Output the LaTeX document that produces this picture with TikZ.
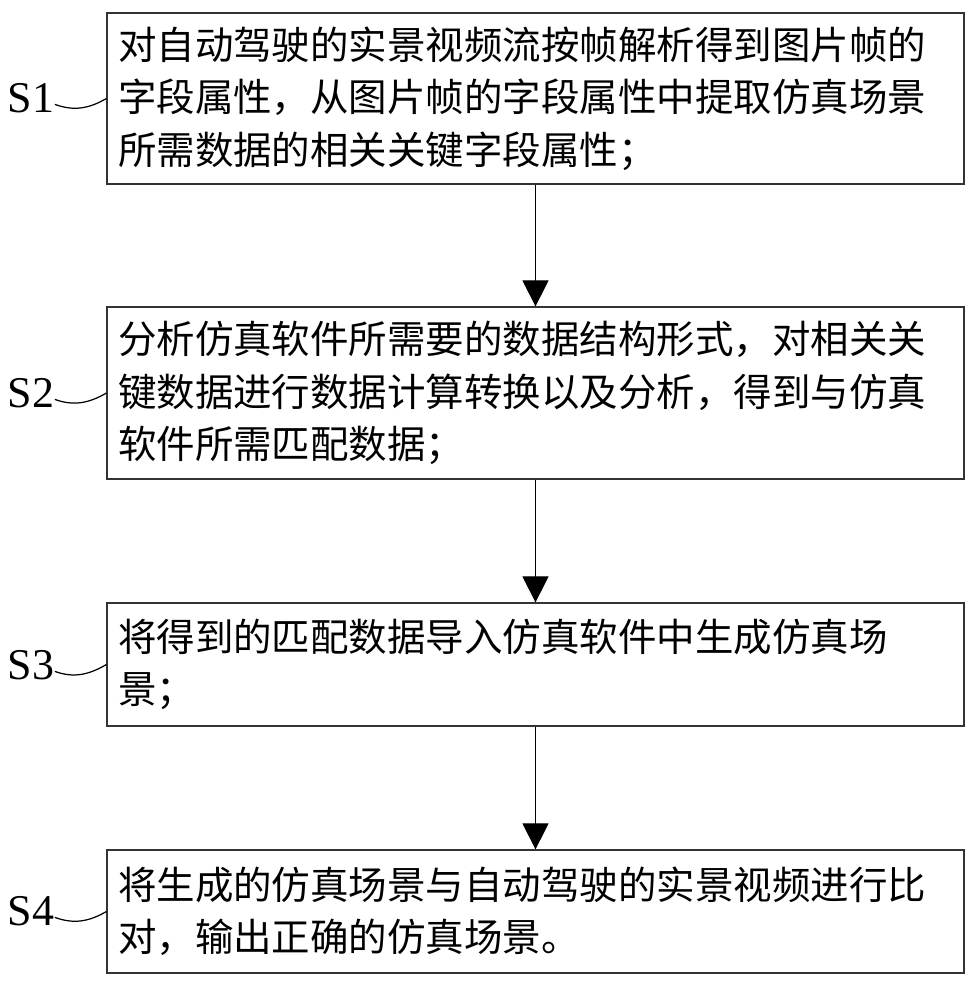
\documentclass[tikz,border=0pt]{standalone}
\usepackage{fontspec}
\setmainfont{Liberation Serif}
\newfontfamily\cjk{Noto Sans CJK SC}
\usetikzlibrary{arrows.meta}

\tikzset{
  stepbox/.style={draw=black!80, minimum width=17.14cm, text width=16.7cm, align=left, inner sep=0pt,
    font=\cjk\fontsize{21.9pt}{29.8pt}\selectfont},
  steplabel/.style={inner sep=0pt, font=\fontsize{25pt}{28pt}\selectfont},
  flow/.style={-{Triangle[length=0.52cm,width=0.52cm]}}
}

\begin{document}
\begin{tikzpicture}[x=0.02cm,y=-0.02cm,line width=0.7pt]
\useasboundingbox (0,0) rectangle (978,987);
% step boxes
\node[stepbox, minimum height=3.42cm] (b1) at (535.5,98.5) {对自动驾驶的实景视频流按帧解析得到图片帧的\\字段属性，从图片帧的字段属性中提取仿真场景\\所需数据的相关关键字段属性；};
\node[stepbox, minimum height=3.44cm] (b2) at (535.5,393) {分析仿真软件所需要的数据结构形式，对相关关\\键数据进行数据计算转换以及分析，得到与仿真\\软件所需匹配数据；};
\node[stepbox, minimum height=2.46cm] (b3) at (535.5,664.5) {将得到的匹配数据导入仿真软件中生成仿真场\\景；};
\node[stepbox, minimum height=2.46cm] (b4) at (535.5,911.5) {将生成的仿真场景与自动驾驶的实景视频进行比\\对，输出正确的仿真场景。};
% step labels
\node[steplabel] (l1) at (31,98) {S1};
\node[steplabel] (l2) at (31,393) {S2};
\node[steplabel] (l3) at (31,665) {S3};
\node[steplabel] (l4) at (31,911) {S4};
\draw (l1.-15) to[out=-20,in=210] (b1.west);
\draw (l2.-15) to[out=-20,in=210] (b2.west);
\draw (l3.-15) to[out=-20,in=210] (b3.west);
\draw (l4.-15) to[out=-20,in=210] (b4.west);
% arrows
\draw[flow, line width=0.5pt] (b1) -- (b2);
\draw[flow, line width=0.5pt] (b2) -- (b3);
\draw[flow, line width=0.5pt] (b3) -- (b4);
\end{tikzpicture}
\end{document}
